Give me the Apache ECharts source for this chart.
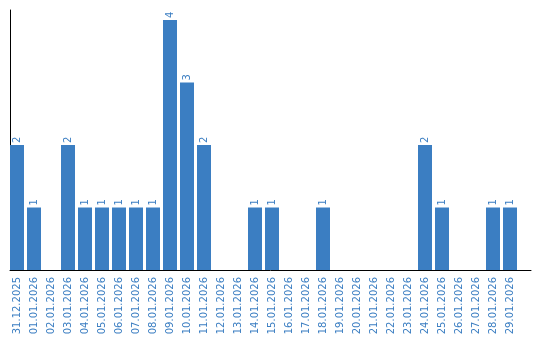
<!DOCTYPE html>
<html><head><meta charset="utf-8">
<script src="https://cdn.jsdelivr.net/npm/echarts@6/dist/echarts.min.js"></script>
<style>html,body{margin:0;padding:0;background:#fff}#c{width:540px;height:340px}</style>
</head><body><div id="c"></div>
<script>
var categories = ["31.12.2025","01.01.2026","02.01.2026","03.01.2026","04.01.2026","05.01.2026","06.01.2026","07.01.2026","08.01.2026","09.01.2026","10.01.2026","11.01.2026","12.01.2026","13.01.2026","14.01.2026","15.01.2026","16.01.2026","17.01.2026","18.01.2026","19.01.2026","20.01.2026","21.01.2026","22.01.2026","23.01.2026","24.01.2026","25.01.2026","26.01.2026","27.01.2026","28.01.2026","29.01.2026"];
var values = [2,1,0,2,1,1,1,1,1,4,3,2,0,0,1,1,0,0,1,0,0,0,0,0,2,1,0,0,1,1];
var blue = '#3b7ec2';
var chart = echarts.init(document.getElementById('c'), null, {renderer:'canvas'});
chart.setOption({
  animation:false,
  grid:[
    {left:8.5, width:510, top:10, bottom:70},
    {left:10, right:9, top:10, bottom:70}
  ],
  xAxis:[
    {type:'category', gridIndex:0, data:categories,
     axisLine:{show:false}, axisTick:{show:false},
     axisLabel:{rotate:90, color:blue, fontFamily:'DejaVu Sans', fontSize:10, margin:7, interval:0}},
    {type:'category', gridIndex:1, data:[''], axisLine:{show:true, lineStyle:{color:'#000', width:1}},
     axisTick:{show:false}, axisLabel:{show:false}}
  ],
  yAxis:[
    {type:'value', gridIndex:0, min:0, max:4.16, show:false, splitLine:{show:false}},
    {type:'value', gridIndex:1, min:0, max:1, axisLine:{show:true, lineStyle:{color:'#000', width:1}},
     axisLabel:{show:false}, axisTick:{show:false}, splitLine:{show:false}}
  ],
  series:[{
    type:'bar', xAxisIndex:0, yAxisIndex:0, data:values,
    barWidth:14,
    itemStyle:{color:blue},
    label:{show:true, position:'top', rotate:90, align:'left', verticalAlign:'middle', distance:2,
      color:blue, fontFamily:'DejaVu Sans', fontSize:10,
      formatter:function(p){return p.value>0?String(p.value):'';}}
  }]
});
</script></body></html>
